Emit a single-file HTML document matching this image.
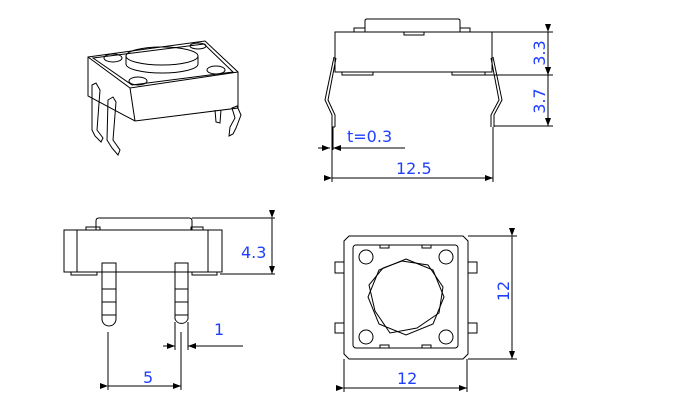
<!DOCTYPE html>
<html><head><meta charset="utf-8"><style>
html,body{margin:0;padding:0;background:#fff;}
svg{display:block;}
text{font-family:"DejaVu Sans","Liberation Sans",sans-serif;fill:#1f3fff;font-size:16px;}
</style></head><body>
<svg width="683" height="417" viewBox="0 0 683 417" xmlns="http://www.w3.org/2000/svg">
<defs>
<marker id="a" markerWidth="8" markerHeight="6" refX="8" refY="3" orient="auto" markerUnits="userSpaceOnUse"><path d="M0,0 L8,3 L0,6 z" fill="#000"/></marker>
</defs>
<g fill="none" stroke="#000" stroke-width="1">
<!-- 3D view -->
<path d="M88,57 L205,41 L238,72 L238,108 L135,121 L88,96 Z"/>
<path d="M88,57 L130,88 L238,72"/>
<path d="M130,88 L135,121"/>
<path d="M93,58 L204,44 L233,72 L132,85 Z"/>
<path d="M126,56 L126,64 A36,9 0 0 0 198,64 L198,56"/>
<ellipse cx="162" cy="56" rx="36" ry="9"/>
<ellipse cx="113" cy="58" rx="9" ry="4"/>
<ellipse cx="138" cy="81" rx="9" ry="4"/>
<ellipse cx="216" cy="70" rx="9" ry="4"/>
<ellipse cx="198" cy="46" rx="8" ry="3"/>
<path d="M92,85 L96,83 L100,90 L97,130 L103,138 L101,142 L95,136 L92,130 Z"/>
<path d="M108,100 L113,97 L116,102 L113,140 L120,150 L118,155 L112,148 L107,140 Z"/>
<path d="M215,110 L216,122 L220,123 L221,110"/>
<path d="M232,108 L237,106 L241,115 L236,128 L233,134 L229,136 L230,127 L235,118 Z"/>
<!-- side view top-right -->
<rect x="335" y="32" width="157" height="40"/>
<path d="M365,32 L365,21 Q365,19 367,19 L458,19 Q460,19 460,21 L460,32"/>
<path d="M354,32 L354,28 L365,28 M460,28 L470,28 L470,32"/>
<path d="M404,32 L404,35 L424,35 L424,32"/>
<path d="M342,72 L342,75 L373,75 L373,72 M452,72 L452,75 L485,75 L485,72"/>
<path d="M334,57 L325,100 L332,115 L332,127 M336,58 L328,100 L335,115 L335,127 M332,127 L335,127"/>
<path d="M493,57 L502,100 L494,115 L494,127 M491,58 L499,100 L491,115 L491,127"/>
<path d="M492,32 L553,32 M485,75 L553,75 M494,126 L553,126"/>
<path d="M548,32 L548,75" marker-start="url(#a)" marker-end="url(#a)"/>
<path d="M548,75 L548,126" marker-start="url(#a)" marker-end="url(#a)"/>
<path d="M332,127 L332,182 M493,127 L493,182 M333,127 L333,150"/>
<path d="M318,148 L330,148" marker-end="url(#a)"/>
<path d="M405,148 L333,148" marker-end="url(#a)"/>
<path d="M332,178 L493,178" marker-start="url(#a)" marker-end="url(#a)"/>
<!-- front view bottom-left -->
<path d="M96,230 L96,221 Q96,218 99,218 L189,218 Q192,218 192,221 L192,230"/>
<path d="M86,230 L86,227 L100,227 L100,230 M191,230 L191,227 L203,227 L203,230"/>
<rect x="64" y="230" width="158" height="42"/>
<path d="M77,230 L77,272 M208,230 L208,272"/>
<path d="M71,272 L71,275 L97,275 L97,272 M192,272 L192,275 L217,275 L217,272"/>
<path d="M102,263 L102,319 A7,7 0 0 0 116,319 L116,263 Z M102,289 L116,289 M102,302 L116,302 M102,315 L116,315"/>
<path d="M175,263 L175,319 A7,7 0 0 0 188,319 L188,263 Z M175,289 L188,289 M175,302 L188,302 M175,315 L188,315"/>
<path d="M192,218 L275,218 M220,274 L275,274"/>
<path d="M272,218 L272,274" marker-start="url(#a)" marker-end="url(#a)"/>
<path d="M175,322 L175,350 M188,322 L188,350"/>
<path d="M163,346 L175,346" marker-end="url(#a)"/>
<path d="M243,346 L188,346" marker-end="url(#a)"/>
<path d="M108,332 L108,390 M181,332 L181,390"/>
<path d="M108,386 L181,386" marker-start="url(#a)" marker-end="url(#a)"/>
<!-- top view -->
<path d="M349,236 L463,236 L468,241 L468,354 L463,359 L349,359 L344,354 L344,241 Z"/>
<rect x="353" y="245" width="105" height="103" rx="3"/>
<path d="M380,245 L380,248 L389,248 L389,245 M422,245 L422,248 L431,248 L431,245 M380,348 L380,345 L389,345 L389,348 M422,348 L422,345 L431,345 L431,348"/>
<path d="M344,262 L335,262 L335,273 L344,273 M344,323 L335,323 L335,333 L344,333 M468,262 L477,262 L477,273 L468,273 M468,323 L477,323 L477,333 L468,333"/>
<polygon points="406,259 433,270 444,297 433,324 406,335 379,324 368,297 379,270"/>
<polygon points="402,261 428,265 443,287 439,313 417,328 390,333 375,311 369,285 383,268"/>
<circle cx="366" cy="257" r="7"/><circle cx="446" cy="257" r="7"/>
<circle cx="366" cy="337" r="7"/><circle cx="446" cy="337" r="7"/>
<path d="M468,236 L517,236 M468,359 L517,359"/>
<path d="M512,236 L512,359" marker-start="url(#a)" marker-end="url(#a)"/>
<path d="M344,359 L344,392 M467,359 L467,392"/>
<path d="M344,388 L467,388" marker-start="url(#a)" marker-end="url(#a)"/>
</g>
<text x="347" y="142">t=0.3</text>
<text x="396" y="174">12.5</text>
<text transform="translate(545,53) rotate(-90)" text-anchor="middle">3.3</text>
<text transform="translate(545,101) rotate(-90)" text-anchor="middle">3.7</text>
<text x="241" y="258">4.3</text>
<text x="214" y="335">1</text>
<text x="143" y="383">5</text>
<text transform="translate(509,291) rotate(-90)" text-anchor="middle">12</text>
<text x="397" y="384">12</text>
</svg>
</body></html>
